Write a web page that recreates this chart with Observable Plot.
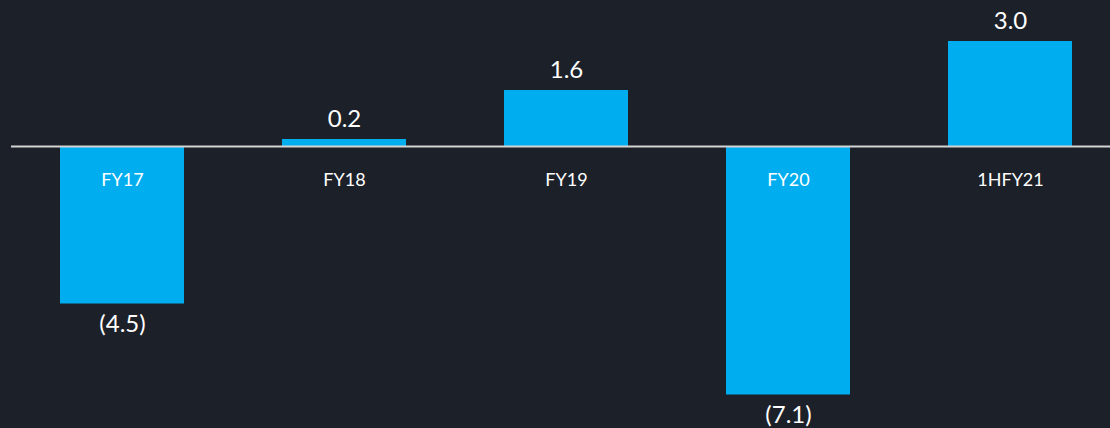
<!DOCTYPE html>
<html>
<head>
<meta charset="utf-8">
<script src="https://cdn.jsdelivr.net/npm/d3@7"></script>
<script src="https://cdn.jsdelivr.net/npm/@observablehq/plot@0.6"></script>
<style>
  html, body { margin: 0; padding: 0; background: #1c2029; }
  body { width: 1110px; height: 428px; overflow: hidden; }
  svg { display: block; }
</style>
</head>
<body>
<div id="chart"></div>
<script>
const categories = ["FY17", "FY18", "FY19", "FY20", "1HFY21"];
const values = [-4.5, 0.2, 1.6, -7.1, 3.0];
const valueLabels = ["(4.5)", "0.2", "1.6", "(7.1)", "3.0"];

const data = categories.map((c, i) => ({cat: c, value: values[i], label: valueLabels[i]}));
const font = "Lato, 'Open Sans', sans-serif";

const chart = Plot.plot({
  width: 1110,
  height: 428,
  marginLeft: 11,
  marginRight: 0,
  marginTop: 0,
  marginBottom: 0,
  style: {background: "transparent", fontFamily: font, color: "#ffffff"},
  x: {type: "band", domain: categories, range: [11, 1121], paddingInner: 0.441, paddingOuter: 0.2205, axis: null},
  y: {domain: [-8, 4], range: [426, 6], axis: null},
  marks: [
    Plot.barY(data, {x: "cat", y: "value", fill: "#00aeef"}),
    Plot.ruleY([0], {stroke: "#d4d4d4", strokeWidth: 2}),
    Plot.text(data.filter(d => d.value >= 0), {
      x: "cat", y: "value", text: "label", dy: -20,
      fill: "#ffffff", fontSize: 24, fontFamily: font
    }),
    Plot.text(data.filter(d => d.value < 0), {
      x: "cat", y: "value", text: "label", dy: 20,
      fill: "#ffffff", fontSize: 24, fontFamily: font
    }),
    Plot.text(data, {
      x: "cat", y: 0, text: "cat", dy: 34,
      fill: "#ffffff", fontSize: 18, fontFamily: font
    })
  ]
});
document.getElementById("chart").appendChild(chart);
</script>
</body>
</html>
